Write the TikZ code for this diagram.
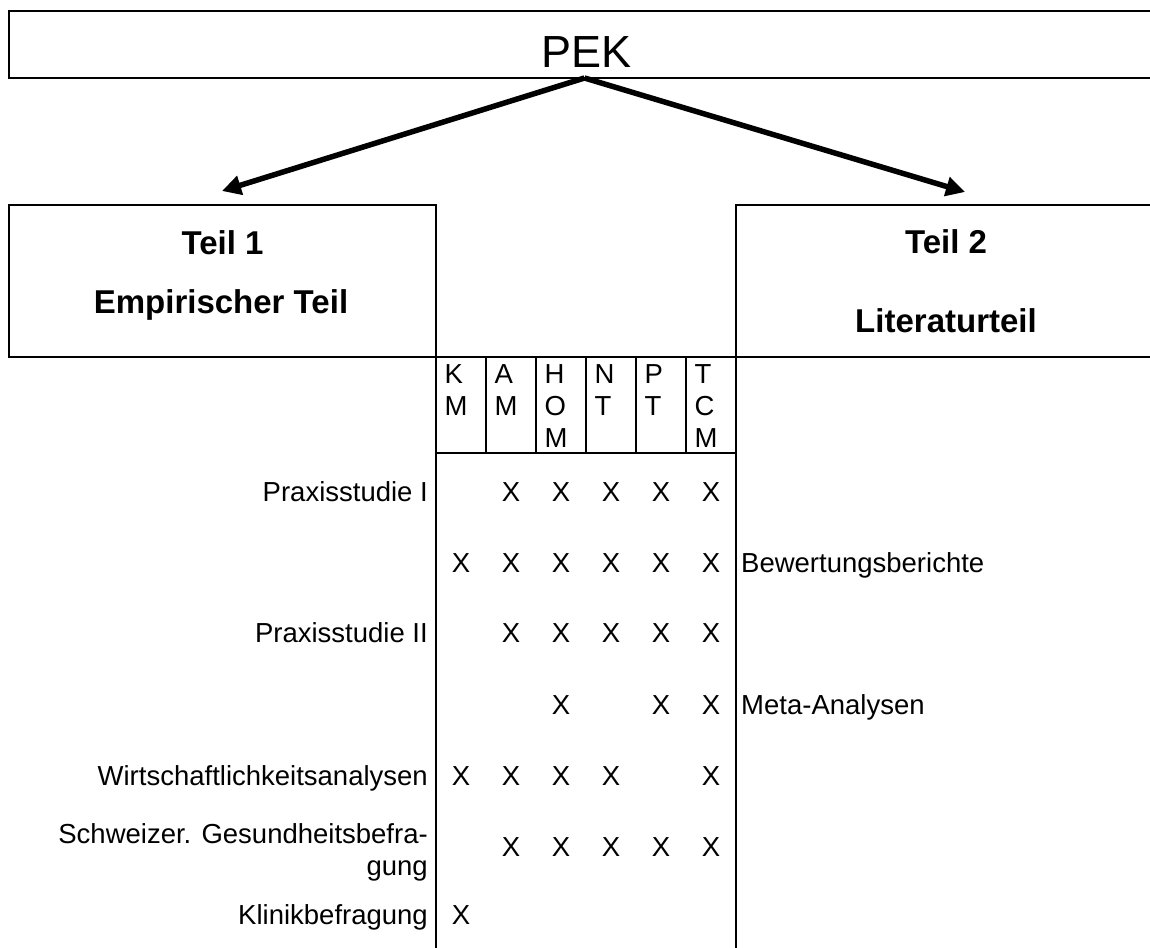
\documentclass[tikz,border=0pt]{standalone}
\usepackage{fontspec}
\setmainfont{Liberation Sans}
\usetikzlibrary{arrows.meta}
\begin{document}
\begin{tikzpicture}[x=1pt,y=-1pt,
  box/.style={draw,line width=2.3pt,rectangle,inner sep=0pt,outer sep=0pt},
  rule/.style={line width=2.3pt},
  bigarrow/.style={line width=5.5pt,-{Triangle[length=19pt,width=19pt]}},
  txt/.style={inner sep=0pt,font=\fontsize{27.5}{31}\selectfont},
  lbl/.style={txt,anchor=base east},
  rlbl/.style={txt,anchor=base west},
  xmark/.style={txt,anchor=base},
  hdr/.style={txt,anchor=base west},
  boldtxt/.style={inner sep=0pt,anchor=base,font=\fontsize{33}{38}\selectfont\bfseries},
  title/.style={inner sep=0pt,anchor=base,font=\fontsize{45}{52}\selectfont}
]
\useasboundingbox (0,0) rectangle (1150,947);
\clip (0,0) rectangle (1150,947);

% main boxes
\node[box,minimum width=1151pt,minimum height=67pt] (pek) at (584.5,44.5) {};
\node[title] (pektext) at (586.5,68) {PEK};
\node[box,minimum width=427pt,minimum height=152pt] (teil1) at (222.5,281) {};
\node[box,minimum width=420pt,minimum height=152pt] (teil2) at (946,281) {};

\node[boldtxt] (t1a) at (222.5,254) {Teil 1};
\node[boldtxt] (t1b) at (221,313) {Empirischer Teil};
\node[boldtxt] (t2a) at (946,253) {Teil 2};
\node[boldtxt] (t2b) at (946,332) {Literaturteil};

% arrows
\coordinate (tip1) at (222,191);
\coordinate (tip2) at (965,192);
\draw[bigarrow] (pek.south) -- (tip1);
\draw[bigarrow] (pek.south) -- (tip2);

% table frame
\draw[rule] (teil1.south east) -- (teil2.south west);
\draw[rule] (teil1.south east) -- ++(0,620);
\draw[rule] (teil2.south west) -- ++(0,620);
\coordinate (hl) at (436,453);
\coordinate (hr) at (736,453);
\draw[rule] (hl) -- (hr);
\foreach \c in {1,...,5}{
  \coordinate (sept\c) at (436+50*\c,357);
  \coordinate (sepb\c) at (436+50*\c,453);
  \draw[rule] (sept\c) -- (sepb\c);
}

% column headers
\foreach \c/\letters in {1/{K,M},2/{A,M},3/{H,O,M},4/{N,T},5/{P,T},6/{T,C,M}}{
  \foreach \l [count=\i] in \letters{
    \node[hdr] (h-\c-\i) at (444.5+50*\c-50,351+32*\i) {\l};
  }
}

% row labels (left)
\node[lbl] (r1) at (428,501) {Praxisstudie I};
\node[lbl] (r3) at (428,642) {Praxisstudie II};
\node[lbl] (r5) at (428,785) {Wirtschaftlichkeitsanalysen};
\node[lbl] (r6a) at (428,843) {Schweizer. Gesundheitsbefra-};
\node[lbl] (r6b) at (428,875) {gung};
\node[lbl] (r7) at (428,924) {Klinikbefragung};

% row labels (right)
\node[rlbl] (r2) at (741,572) {Bewertungsberichte};
\node[rlbl] (r4) at (741,714) {Meta-Analysen};

% X marks
\foreach \r/\y/\cols in {1/501/{2,3,4,5,6},2/572/{1,2,3,4,5,6},3/642/{2,3,4,5,6},4/714/{3,5,6},5/785/{1,2,3,4,6},6/856/{2,3,4,5,6},7/924/{1}}{
  \foreach \c in \cols{
    \node[xmark] (x-\r-\c) at (461+50*\c-50,\y) {X};
  }
}
\end{tikzpicture}
\end{document}
